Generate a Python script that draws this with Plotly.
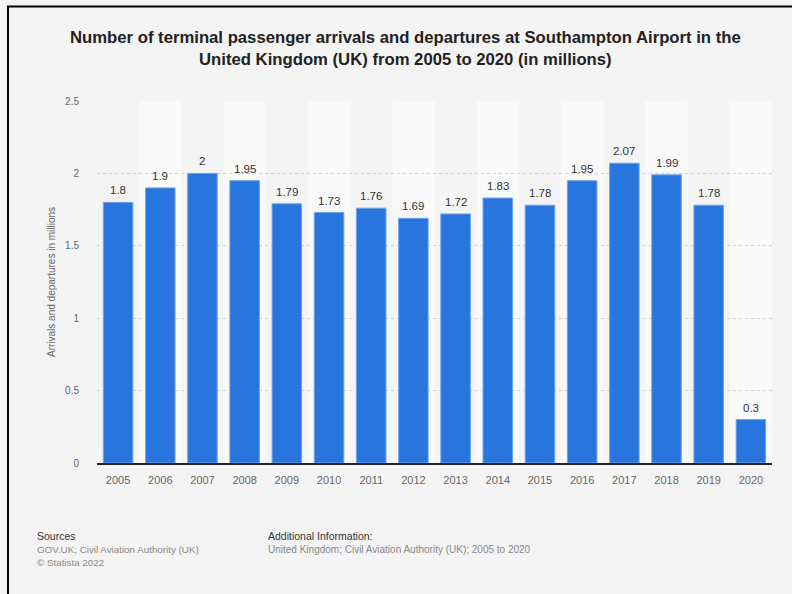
import plotly.graph_objects as go

years = ["2005", "2006", "2007", "2008", "2009", "2010", "2011", "2012",
         "2013", "2014", "2015", "2016", "2017", "2018", "2019", "2020"]
passengers = [1.8, 1.9, 2, 1.95, 1.79, 1.73, 1.76, 1.69,
              1.72, 1.83, 1.78, 1.95, 2.07, 1.99, 1.78, 0.3]
y_ticks = [0, 0.5, 1, 1.5, 2, 2.5]
y_tick_labels = ["0", "0.5", "1", "1.5", "2", "2.5"]

title_text = ("<b>Number of terminal passenger arrivals and departures at Southampton Airport in the<br>"
              "United Kingdom (UK) from 2005 to 2020 (in millions)</b>")

FONT = "Liberation Sans, Arial, Helvetica, sans-serif"
BG = "#f4f4f4"
BAND = "#f9f9f9"
BAR = "#2876dd"

fig = go.Figure()
fig.add_trace(go.Bar(
    x=years,
    y=passengers,
    marker=dict(color=BAR, line=dict(color="#6fa3ea", width=1)),
    width=0.7,
    hoverinfo="x+y",
))

# alternating light column bands behind every second year
shapes = []
for i in range(len(years)):
    if i % 2 == 1:
        shapes.append(dict(type="rect", xref="x", yref="paper",
                           x0=i - 0.5, x1=i + 0.5, y0=0, y1=1,
                           fillcolor=BAND, line=dict(width=0), layer="below"))

# helpers to place page-level items in pixel space via paper coords
plot_w, plot_h = 792 - 97 - 20, 594 - 101 - 131
def px_x(px):
    return (px - 97) / plot_w
def px_y(py):
    return (594 - 131 - py) / plot_h

# frame lines along the top and left edges of the page
shapes.append(dict(type="line", xref="paper", yref="paper",
                   x0=px_x(7), x1=px_x(795), y0=px_y(6.5), y1=px_y(6.5),
                   line=dict(color="#000000", width=2)))
shapes.append(dict(type="line", xref="paper", yref="paper",
                   x0=px_x(8), x1=px_x(8), y0=px_y(6), y1=px_y(600),
                   line=dict(color="#000000", width=2)))

# value labels above each bar (category index positions)
annotations = [
    dict(x=i, y=v, xref="x", yref="y", text=f"{v:g}",
         xanchor="center", yanchor="bottom", yshift=4, showarrow=False,
         font=dict(size=11.5, color="#333333", family=FONT))
    for i, v in enumerate(passengers)
]

annotations += [
    dict(text=title_text, xref="paper", yref="paper",
         x=px_x(405), y=px_y(48.5), xanchor="center", yanchor="middle",
         showarrow=False, align="center",
         font=dict(size=16.7, color="#222222", family=FONT)),
    dict(text="Arrivals and departures in millions", xref="paper", yref="paper",
         x=px_x(51), y=px_y(282), xanchor="center", yanchor="middle",
         textangle=-90, showarrow=False,
         font=dict(size=10, color="#666666", family=FONT)),
    dict(text="Sources", xref="paper", yref="paper",
         x=px_x(35), y=px_y(536), xanchor="left", yanchor="middle",
         showarrow=False, font=dict(size=10.5, color="#333333", family=FONT)),
    dict(text="GOV.UK; Civil Aviation Authority (UK)<br>© Statista 2022",
         xref="paper", yref="paper",
         x=px_x(35), y=px_y(555.5), xanchor="left", yanchor="middle",
         showarrow=False, align="left",
         font=dict(size=9.8, color="#888888", family=FONT)),
    dict(text="Additional Information:", xref="paper", yref="paper",
         x=px_x(266), y=px_y(536), xanchor="left", yanchor="middle",
         showarrow=False, font=dict(size=10.5, color="#333333", family=FONT)),
    dict(text="United Kingdom; Civil Aviation Authority (UK); 2005 to 2020",
         xref="paper", yref="paper",
         x=px_x(266), y=px_y(549), xanchor="left", yanchor="middle",
         showarrow=False, font=dict(size=10, color="#888888", family=FONT)),
]

fig.update_layout(
    width=792, height=594,
    margin=dict(l=97, r=20, t=101, b=131, autoexpand=False),
    paper_bgcolor=BG, plot_bgcolor=BG,
    font=dict(family=FONT),
    showlegend=False,
    shapes=shapes,
    annotations=annotations,
    xaxis=dict(
        type="category",
        range=[-0.5, len(years) - 0.5],
        showgrid=False,
        showline=True, linecolor="#222222", linewidth=1.5,
        ticks="", tickfont=dict(size=11, color="#666666", family=FONT),
        ticklabelstandoff=6,
        fixedrange=True,
    ),
    yaxis=dict(
        range=[0, 2.5],
        tickvals=y_ticks, ticktext=y_tick_labels,
        showgrid=True, gridcolor="#d2d2d2", griddash="dot", gridwidth=1,
        zeroline=False, showline=False,
        ticks="", tickfont=dict(size=10, color="#666666", family=FONT),
        ticklabelstandoff=17,
        fixedrange=True,
    ),
)

fig.write_html("out.html")
